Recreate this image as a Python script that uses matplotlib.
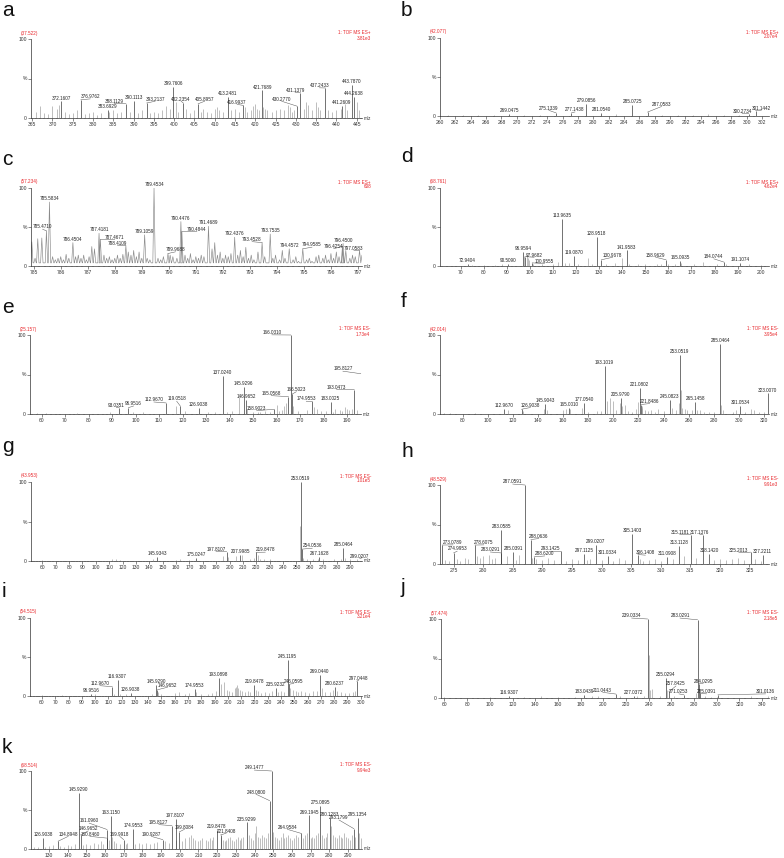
import matplotlib.pyplot as plt
from matplotlib.ticker import MultipleLocator

plt.rcParams['font.family'] = ['Liberation Sans', 'DejaVu Sans']

# ---------------- data: labelled peaks (m/z, relative intensity %) ----------------
a_mz = [372.1607, 376.9762, 383.6929, 388.1129, 390.1113, 393.2137, 399.7606, 402.2354, 405.8957,
        413.2481, 416.9937, 421.7689, 430.2770, 431.1379, 437.2433, 441.2609, 443.7870, 444.2638]
a_int = [21, 23, 10, 18, 22, 19, 39, 19, 18, 27, 16, 35, 15, 32, 38, 15, 42, 27]
a_bg_mz = [366, 367, 368, 369, 370, 371, 371.5, 373, 374, 375, 376, 378, 379, 380, 381, 382, 384, 385,
           386, 387, 389, 391, 392, 394, 395, 396, 397, 398, 399, 400.5, 401, 403, 404, 405, 406.5, 407,
           408, 409, 410, 410.5, 411, 412, 414, 415, 416, 417.5, 418, 419, 419.5, 420, 420.5, 421, 422,
           422.5, 423, 424, 425, 426, 427, 428, 428.5, 429, 429.5, 432, 432.5, 433, 434, 435, 435.5, 436,
           438, 439, 440, 441, 442, 442.5, 445, 445.5]
a_bg_int = [8, 15, 6, 5, 15, 12, 16, 8, 5, 6, 10, 5, 6, 7, 4, 6, 8, 10, 6, 7, 8, 6, 10, 6, 8, 6, 10,
            15, 12, 20, 8, 12, 6, 10, 8, 12, 8, 6, 12, 14, 10, 8, 10, 12, 8, 14, 8, 10, 15, 18, 12, 10,
            14, 12, 10, 8, 10, 12, 10, 16, 14, 8, 10, 12, 20, 16, 10, 20, 14, 10, 10, 8, 10, 12, 18, 10,
            20, 10]

b_mz = [269.0475, 275.1339, 277.1438, 279.0856, 281.0540, 285.0725, 287.0583, 300.2734, 301.1442]
b_int = [3, 4, 4, 16, 4, 14, 5, 3, 7]
b_bg_mz = [261, 263, 265, 267, 271, 273, 283, 289, 291, 293, 295, 297, 299]
b_bg_int = [1, 1, 1, 1, 1, 1, 2, 1, 1, 1, 2, 1, 1]

c_mz = [785.4710, 785.5834, 786.4504, 787.4181, 787.4671, 788.4109, 789.1059, 789.4534, 789.9688,
        790.4476, 790.4844, 791.4689, 792.4376, 793.4528, 793.7535, 794.4572, 794.9585, 796.4254,
        796.4500, 797.0583]
c_int = [45, 82, 30, 42, 34, 26, 40, 100, 16, 57, 44, 51, 37, 30, 41, 22, 22, 25, 29, 20]
c_bg_mz = [784.93, 785.05, 785.15, 785.3, 785.7, 785.8, 785.9, 786.0, 786.1, 786.2, 786.3, 786.55,
           786.65, 786.75, 786.85, 786.95, 787.05, 787.15, 787.25, 787.6, 787.7, 787.8, 787.9, 788.0,
           788.1, 788.2, 788.3, 788.5, 788.6, 788.7, 788.8, 788.9, 789.0, 789.2, 789.3, 789.6, 789.7,
           789.8, 790.05, 790.15, 790.3, 790.6, 790.7, 790.8, 790.9, 791.0, 791.1, 791.2, 791.3, 791.6,
           791.7, 791.8, 791.9, 792.0, 792.1, 792.2, 792.3, 792.55, 792.65, 792.75, 792.85, 792.95,
           793.05, 793.15, 793.3, 793.55, 793.85, 793.95, 794.1, 794.2, 794.3, 794.6, 794.7, 794.8,
           795.1, 795.2, 795.3, 795.45, 795.55, 795.7, 795.8, 795.9, 796.0, 796.1, 796.2, 796.3,
           796.55, 796.7, 796.8, 796.9, 797.15]
c_bg_int = [31, 10, 35, 36, 12, 8, 10, 12, 8, 15, 10, 12, 14, 10, 14, 8, 12, 25, 22, 14, 10, 12, 8,
            10, 14, 10, 15, 18, 14, 20, 12, 18, 10, 10, 8, 10, 8, 12, 14, 12, 10, 14, 10, 16, 8, 12,
            10, 14, 12, 22, 30, 14, 18, 10, 14, 12, 16, 14, 20, 12, 24, 10, 14, 8, 18, 12, 10, 14, 8,
            20, 10, 8, 12, 6, 8, 10, 6, 12, 14, 10, 14, 8, 16, 10, 18, 12, 20, 10, 14, 12, 14]

d_mz = [72.9404, 90.5090, 96.9594, 97.9682, 100.9555, 113.9635, 119.0870, 128.9518, 130.9678,
        141.9583, 158.9629, 165.0935, 184.0744, 191.1074]
d_int = [3, 3, 18, 12, 4, 60, 13, 37, 8, 20, 8, 7, 5, 4]
d_bg_mz = [75, 80, 85, 88, 97.5, 98.5, 99, 99.5, 101.5, 105, 110, 112, 115, 117, 121, 125, 127, 133,
           137, 140, 143, 147, 150, 155, 157, 160, 163, 165.5, 171, 175, 181, 185, 195, 200]
d_bg_int = [1, 1, 1, 2, 13, 15, 10, 8, 3, 2, 3, 5, 4, 4, 3, 10, 3, 2, 4, 10, 3, 2, 2, 3, 2, 2, 3, 4,
            2, 5, 2, 2, 2, 1]

e_mz = [93.0351, 96.9516, 112.9670, 119.0518, 126.9038, 137.0240, 145.9296, 146.9652, 158.9023,
        165.0568, 166.0310, 166.5023, 174.9553, 183.0025, 193.0473, 195.8127]
e_int = [8, 8, 14, 10, 8, 48, 34, 18, 6, 22, 100, 25, 16, 15, 31, 51]
e_bg_mz = [58, 62, 75, 89, 99, 103, 117, 121, 131, 134, 139, 141, 144, 147.5, 150, 152, 153, 155,
           157, 160, 161, 162.5, 163, 164, 167, 169, 173, 176, 177, 179, 181, 184, 185, 187, 188, 189,
           190, 191, 192, 194]
e_bg_int = [1, 1, 1, 2, 2, 3, 10, 4, 2, 3, 2, 4, 22, 6, 3, 3, 2, 4, 3, 12, 4, 5, 10, 14, 10, 4, 5, 9,
            6, 4, 4, 3, 6, 5, 4, 9, 6, 5, 6, 5]

f_mz = [112.9670, 126.9038, 145.9043, 165.0010, 177.0540, 193.1019, 205.9790, 221.0802, 221.8486,
        245.0823, 253.0519, 265.1458, 285.0464, 301.0534, 323.0070]
f_int = [6, 6, 13, 8, 14, 61, 20, 33, 12, 18, 75, 15, 89, 10, 26]
f_bg_mz = [65, 70, 90, 116, 128, 145, 147, 160, 162, 165.5, 175, 180, 187, 190, 195, 197, 200, 202,
           205, 207, 209, 212, 215, 218, 220, 222.5, 223, 225, 228, 230, 233, 236, 240, 247, 250, 252,
           254, 255, 257, 259, 263, 267, 269, 272, 276, 280, 286, 287, 295, 298, 305, 310, 312, 316,
           320]
f_bg_int = [1, 1, 1, 5, 4, 6, 5, 5, 6, 6, 7, 3, 4, 4, 16, 20, 17, 5, 14, 10, 12, 4, 3, 6, 15, 10, 8,
            5, 4, 5, 3, 6, 4, 8, 5, 14, 30, 8, 6, 5, 5, 5, 5, 3, 3, 3, 12, 5, 3, 5, 2, 6, 5, 2, 3]

g_mz = [145.9343, 175.0247, 197.8107, 207.9985, 219.8478, 253.0519, 254.0536, 267.1628, 285.0464,
        299.0207]
g_int = [5, 4, 12, 8, 11, 100, 15, 5, 17, 4]
g_bg_mz = [60, 112, 115, 118, 143, 160, 163, 170, 195, 198.5, 205, 209, 215, 218, 221, 223, 226,
           230, 252.5, 255, 258, 262, 266, 270, 278, 283, 286, 290, 295]
g_bg_int = [1, 2, 2, 1, 2, 1, 2, 1, 6, 5, 6, 7, 2, 4, 7, 3, 2, 2, 44, 4, 2, 2, 3, 2, 3, 2, 4, 2, 2]

h_mz = [273.0789, 274.9953, 278.6075, 283.0291, 283.0585, 285.0391, 287.0591, 288.0636, 288.6200,
        293.1425, 297.1125, 299.0207, 301.0334, 305.1403, 306.1408, 311.0908, 313.1128, 315.1181,
        317.1376, 318.1420, 325.2013, 327.2211]
h_int = [24, 14, 24, 14, 43, 15, 100, 31, 9, 16, 13, 24, 10, 38, 12, 9, 23, 37, 37, 13, 15, 12]
h_bg_mz = [273.5, 274.3, 275.5, 276, 277, 277.5, 279, 279.5, 280, 281, 281.5, 282, 284, 285.5, 286,
           288.3, 289, 290, 291, 292, 294, 295, 296, 297.5, 298, 300, 302, 303, 304, 306.5, 307, 308,
           309, 310, 312, 314, 316, 319, 320, 321, 322, 323, 324, 326, 327]
h_bg_int = [5, 4, 6, 4, 8, 6, 10, 8, 10, 12, 6, 8, 10, 5, 12, 8, 6, 5, 7, 5, 4, 6, 5, 5, 6, 5, 4, 7,
            5, 6, 4, 5, 6, 4, 6, 10, 8, 5, 6, 5, 6, 7, 5, 6, 4]

i_mz = [96.9516, 112.9670, 116.9307, 126.9038, 145.9290, 146.9652, 174.9553, 193.0898, 219.8478,
        235.9232, 245.1195, 246.0595, 269.0440, 280.6237, 297.0448]
i_int = [3, 12, 21, 4, 14, 8, 9, 23, 14, 10, 46, 15, 27, 12, 19]
i_bg_mz = [60, 75, 100, 114, 119, 123, 143, 147.5, 150, 160, 163, 168, 171, 176, 180, 185, 188, 191,
           195, 197, 199, 201, 203, 205, 206, 207, 208, 209, 211, 213, 215, 217, 221, 223, 225, 228,
           231, 233, 238, 240, 242, 247, 249, 251, 253, 255, 258, 261, 264, 267, 271, 273, 277, 279,
           282, 285, 288, 291, 294, 296]
i_bg_int = [1, 1, 2, 3, 2, 2, 3, 5, 3, 4, 5, 3, 4, 5, 3, 3, 4, 6, 15, 18, 8, 6, 5, 10, 12, 14, 10, 8,
            6, 5, 6, 5, 8, 6, 4, 5, 4, 6, 5, 6, 5, 10, 8, 6, 5, 6, 5, 4, 6, 7, 10, 5, 5, 8, 6, 5, 4,
            4, 5, 6]

j_mz = [116.9307, 183.0439, 211.0443, 227.0372, 239.0334, 255.0294, 257.8425, 271.0253, 283.0291,
        284.0295, 285.0391, 301.0136]
j_int = [3, 4, 5, 3, 100, 25, 8, 4, 99, 18, 6, 4]
j_bg_mz = [60, 100, 130, 145, 160, 175, 190, 195, 215, 230, 236, 240, 241, 243, 250, 256, 262, 282,
           290, 295, 300, 330, 345]
j_bg_int = [1, 1, 1, 2, 1, 1, 2, 2, 2, 2, 3, 54, 10, 12, 2, 10, 2, 6, 2, 1, 1, 2, 2]

k_mz = [126.9038, 134.8948, 145.9290, 146.9652, 160.8460, 161.0960, 163.1150, 169.9918, 174.9553,
        190.9287, 195.8127, 197.8107, 199.8084, 219.8478, 221.8408, 235.9299, 248.0800, 249.1477,
        264.9584, 269.1945, 275.0895, 280.1283, 293.1799, 295.1354]
k_int = [14, 10, 72, 18, 14, 25, 42, 12, 26, 12, 30, 39, 22, 25, 18, 34, 62, 100, 20, 43, 55, 40,
         26, 40]
k_bg_mz = [122, 124, 128, 130, 132, 136, 138, 140, 142, 144, 148, 150, 152, 154, 156, 158, 159, 162,
           164, 165, 166, 168, 171, 172, 176, 178, 180, 182, 184, 186, 188, 192, 194, 198, 201, 203,
           205, 206, 207, 208, 210, 211, 212, 214, 215, 216, 217, 218, 222, 223, 224, 225, 226, 227,
           228, 229, 230, 231, 232, 233, 234, 237, 238, 239, 240, 241, 242, 243, 244, 245, 246, 247,
           250, 251, 252, 253, 254, 255, 256, 257, 258, 259, 260, 261, 262, 263, 266, 267, 268, 270,
           271, 272, 273, 274, 276, 277, 278, 279, 281, 282, 283, 284, 285, 286, 287, 288, 289, 290,
           291, 292, 294, 296, 297]
k_bg_int = [3, 2, 3, 4, 5, 4, 3, 5, 4, 6, 5, 6, 5, 8, 6, 10, 7, 12, 16, 10, 8, 7, 6, 8, 6, 8, 6, 8,
            7, 8, 9, 10, 8, 12, 10, 14, 16, 18, 14, 12, 10, 12, 14, 12, 10, 14, 12, 15, 16, 12, 10,
            12, 14, 16, 12, 10, 13, 15, 12, 14, 16, 18, 14, 12, 20, 30, 16, 14, 18, 16, 14, 20, 22, 16,
            14, 12, 16, 20, 14, 16, 18, 14, 12, 14, 18, 16, 14, 18, 20, 14, 16, 14, 18, 20, 18, 14, 16,
            20, 30, 18, 16, 14, 18, 16, 14, 20, 16, 14, 12, 18, 16, 20, 14]

# header texts (retention time, function, base-peak intensity)
rt_text = {'a': '(37.522)', 'b': '(42.077)', 'c': '(57.234)', 'd': '(68.761)', 'e': '(25.157)',
           'f': '(42.014)', 'g': '(43.953)', 'h': '(48.529)', 'i': '(54.515)', 'j': '(57.474)',
           'k': '(68.514)'}
mode_text = {'a': 'ES+', 'b': 'ES+', 'c': 'ES+', 'd': 'ES+', 'e': 'ES-', 'f': 'ES-', 'g': 'ES-',
             'h': 'ES-', 'i': 'ES-', 'j': 'ES-', 'k': 'ES-'}
bpi_text = {'a': '3.81e3', 'b': '2.07e4', 'c': '608', 'd': '4.62e4', 'e': '1.73e4', 'f': '3.95e4',
            'g': '1.01e5', 'h': '9.91e3', 'i': '3.21e4', 'j': '2.18e5', 'k': '9.94e3'}

# ---------------- layout ----------------
W, H = 784, 858
fig = plt.figure(figsize=(W / 100, H / 100), dpi=100)

SMALL = 3.3
RED = '#e8262b'

# rect in pixels (left, top, right, bottom), letter (x, baseline y), x range, tick steps,
# and moved labels {m/z: (label x, label y)}
layout = {
    'a': dict(rect=(31, 39, 362, 118), letter=(2, 16), xlim=(364.7, 446.3), major=5, minor=1,
              moved={376.9762: (379.3, 27), 388.1129: (385.2, 21), 393.2137: (395.3, 24),
                     402.2354: (401.7, 24), 405.8957: (407.5, 24), 416.9937: (415.5, 20),
                     430.2770: (426.5, 24), 431.1379: (429.8, 35), 437.2433: (435.8, 41)}),
    'b': dict(rect=(440, 38, 769, 116), letter=(401, 16), xlim=(260, 302.9), major=2, minor=1,
              moved={275.1339: (274.2, 10), 277.1438: (277.6, 8), 287.0583: (288.9, 15),
                     300.2734: (299.4, 6), 301.1442: (301.9, 10)}),
    'c': dict(rect=(31, 188, 362, 266), letter=(2, 165), xlim=(784.9, 797.15), major=1, minor=0.2,
              moved={785.4710: (785.33, 50), 787.4671: (788.0, 37), 788.4109: (788.1, 29),
                     790.4844: (791.04, 47), 793.4528: (793.08, 34), 794.9585: (795.3, 27),
                     796.4254: (796.1, 25), 789.9688: (790.25, 21), 797.0583: (796.85, 23)}),
    'd': dict(rect=(440, 188, 769, 266), letter=(401, 162), xlim=(61, 203.6), major=10, minor=2,
              moved={97.9682: (101.8, 14), 100.9555: (106.3, 6), 130.9678: (135.8, 14),
                     158.9629: (154.5, 14), 184.0744: (179.7, 12)}),
    'e': dict(rect=(30, 335, 361, 414), letter=(2, 313), xlim=(55.1, 195.9), major=10, minor=2,
              moved={93.0351: (91.8, 11), 96.9516: (99.2, 13), 112.9670: (107.8, 18),
                     119.0518: (117.5, 19), 158.9023: (151.5, 7), 165.0568: (157.7, 26),
                     166.0310: (158, 103), 166.5023: (168.4, 31), 174.9553: (172.6, 19),
                     193.0473: (185.5, 34), 195.8127: (188.2, 57)}),
    'f': dict(rect=(440, 335, 769, 414), letter=(401, 307), xlim=(62, 324), major=20, minor=5,
              moved={126.9038: (134, 11), 221.8486: (229, 16)}),
    'g': dict(rect=(31, 482, 362, 561), letter=(2, 452), xlim=(51.5, 299), major=10, minor=2,
              moved={197.8107: (189.8, 15), 219.8478: (226.7, 14), 254.0536: (261.8, 19),
                     299.0207: (297.3, 6)}),
    'h': dict(rect=(440, 485, 769, 564), letter=(401, 457), xlim=(272.7, 328.3), major=5, minor=1,
              moved={273.0789: (274.9, 27), 274.9953: (275.6, 19), 278.6075: (280.1, 27),
                     283.0291: (281.2, 18), 287.0591: (285.0, 104), 288.0636: (289.4, 35),
                     288.6200: (290.4, 13), 293.1425: (291.4, 19), 306.1408: (307.4, 14),
                     315.1181: (313.2, 40), 317.1376: (316.6, 40), 325.2013: (323.2, 17)}),
    'i': dict(rect=(30, 618, 362, 696), letter=(2, 597), xlim=(51, 301), major=10, minor=2,
              moved={112.9670: (103.6, 16), 146.9652: (154.5, 14), 246.0595: (249.7, 19),
                     297.0448: (298.5, 23)}),
    'j': dict(rect=(441, 619, 769, 698), letter=(401, 593), xlim=(57, 346), major=20, minor=5,
              moved={211.0443: (199.5, 10), 239.0334: (225, 104), 257.8425: (264, 18),
                     271.0253: (266.7, 8), 283.0291: (267.6, 104), 284.0295: (288, 21),
                     285.0391: (291, 8), 301.0136: (343, 8)}),
    'k': dict(rect=(31, 771, 362, 849), letter=(2, 753), xlim=(120.4, 297.5), major=10, minor=2,
              moved={134.8948: (140.3, 19), 146.9652: (151, 26), 160.8460: (151.9, 19),
                     161.0960: (151.5, 36), 169.9918: (167.9, 19), 190.9287: (184.8, 19),
                     195.8127: (188.8, 34), 199.8084: (202.5, 28), 221.8408: (224.8, 23),
                     248.0800: (240.8, 73), 249.1477: (239.9, 104), 264.9584: (257.6, 28),
                     293.1799: (285.2, 40)}),
}

panels = {
    'a': (a_mz, a_int, a_bg_mz, a_bg_int), 'b': (b_mz, b_int, b_bg_mz, b_bg_int),
    'c': (c_mz, c_int, c_bg_mz, c_bg_int), 'd': (d_mz, d_int, d_bg_mz, d_bg_int),
    'e': (e_mz, e_int, e_bg_mz, e_bg_int), 'f': (f_mz, f_int, f_bg_mz, f_bg_int),
    'g': (g_mz, g_int, g_bg_mz, g_bg_int), 'h': (h_mz, h_int, h_bg_mz, h_bg_int),
    'i': (i_mz, i_int, i_bg_mz, i_bg_int), 'j': (j_mz, j_int, j_bg_mz, j_bg_int),
    'k': (k_mz, k_int, k_bg_mz, k_bg_int),
}


def draw_panel(key):
    lay = layout[key]
    mz, inten, bg_mz, bg_int = panels[key]
    l, t, r, b = lay['rect']
    ax = fig.add_axes([l / W, 1 - b / H, (r - l) / W, (b - t) / H])

    if key == 'c':
        # continuum spectrum: each apex drawn as a narrow profile peak
        pts = sorted(zip(list(mz) + list(bg_mz), list(inten) + list(bg_int)))
        xs, ys = [], []
        for x, y in pts:
            xs += [x - 0.045, x, x + 0.045]
            ys += [4, y, 4]
        ax.plot(xs, ys, color='#8a8a8a', lw=0.45)
    else:
        ax.vlines(bg_mz, 0, bg_int, color='#9a9a9a', lw=0.45)
        ax.vlines(mz, 0, inten, color='#3a3a3a', lw=0.5)

    moved = lay['moved']
    for x, y in zip(mz, inten):
        txt = f'{x:.4f}'
        if x in moved:
            lx, ly = moved[x]
            ax.plot([x, lx], [y, ly - 2.8], color='#555555', lw=0.35, clip_on=False)
        else:
            lx, ly = x, y + 4.2
        ax.text(lx, ly, txt, fontsize=SMALL, ha='center', va='center', color='#222222',
                clip_on=False)

    ax.set_xlim(*lay['xlim'])
    ax.set_ylim(0, 100)
    for s in ('top', 'right'):
        ax.spines[s].set_visible(False)
    for s in ('left', 'bottom'):
        ax.spines[s].set_linewidth(0.5)
        ax.spines[s].set_color('#333333')
    ax.patch.set_alpha(0)

    ax.xaxis.set_major_locator(MultipleLocator(lay['major']))
    ax.xaxis.set_minor_locator(MultipleLocator(lay['minor']))
    ax.set_yticks([0, 50, 100])
    ax.set_yticklabels(['0', '%', '100'])
    ax.tick_params(axis='both', which='major', labelsize=SMALL + 0.3, length=2, width=0.4, pad=1,
                   colors='#333333')
    ax.tick_params(axis='x', which='minor', length=1, width=0.3, colors='#333333')

    ax.text(1.004, 0, 'm/z', transform=ax.transAxes, fontsize=SMALL, ha='left', va='center',
            color='#333333')

    # header texts in red
    fig.text((l - 10) / W, 1 - (t - 6) / H, rt_text[key], fontsize=SMALL, color=RED,
             ha='left', va='center')
    fig.text((r + 9) / W, 1 - (t - 6) / H, '1: TOF MS ' + mode_text[key], fontsize=SMALL,
             color=RED, ha='right', va='center')
    fig.text((r + 9) / W, 1 - (t - 1) / H, bpi_text[key], fontsize=SMALL, color=RED,
             ha='right', va='center')

    lx, ly = lay['letter']
    fig.text(lx / W, 1 - ly / H, key, fontsize=15, ha='left', va='baseline', color='#111111')


for key in layout:
    draw_panel(key)

fig.savefig('out.png', dpi=100)
